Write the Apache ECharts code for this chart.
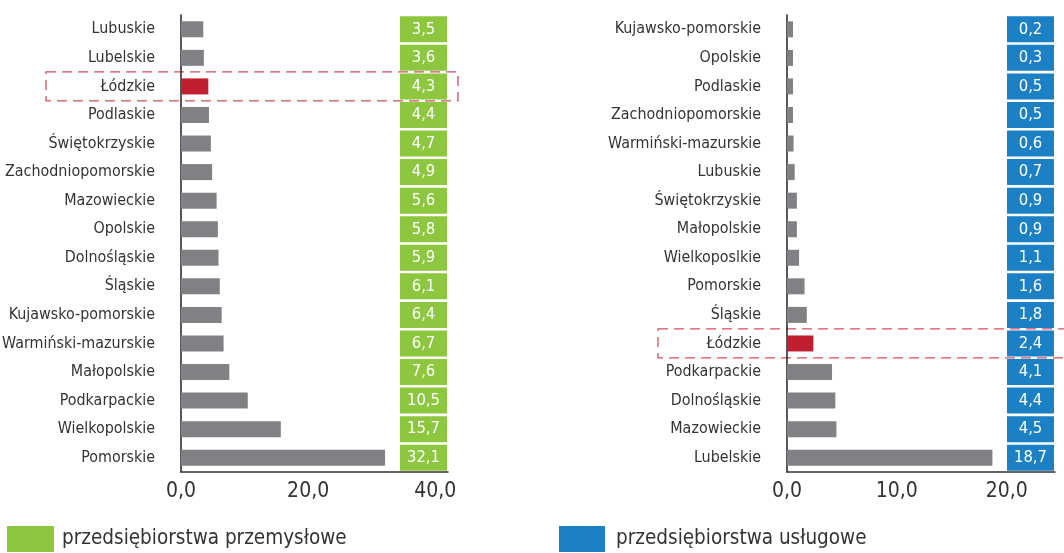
<!DOCTYPE html>
<html>
<head>
<meta charset="utf-8">
<script src="https://cdn.jsdelivr.net/npm/echarts@6/dist/echarts.min.js"></script>
<style>
  html, body { margin: 0; padding: 0; background: #fff; }
  #chart { width: 1064px; height: 553px; }
</style>
</head>
<body>
<div id="chart"></div>
<script>
// lewy wykres - przedsiębiorstwa przemysłowe
const leftCategories = ['Lubuskie', 'Lubelskie', 'Łódzkie', 'Podlaskie', 'Świętokrzyskie', 'Zachodniopomorskie',
  'Mazowieckie', 'Opolskie', 'Dolnośląskie', 'Śląskie', 'Kujawsko-pomorskie', 'Warmiński-mazurskie',
  'Małopolskie', 'Podkarpackie', 'Wielkopolskie', 'Pomorskie']
const leftValues = [3.5, 3.6, 4.3, 4.4, 4.7, 4.9, 5.6, 5.8, 5.9, 6.1, 6.4, 6.7, 7.6, 10.5, 15.7, 32.1]
const leftTicks = [0, 20, 40]

// prawy wykres - przedsiębiorstwa usługowe
const rightCategories = ['Kujawsko-pomorskie', 'Opolskie', 'Podlaskie', 'Zachodniopomorskie', 'Warmiński-mazurskie',
  'Lubuskie', 'Świętokrzyskie', 'Małopolskie', 'Wielkoposlkie', 'Pomorskie', 'Śląskie', 'Łódzkie',
  'Podkarpackie', 'Dolnośląskie', 'Mazowieckie', 'Lubelskie']
const rightValues = [0.2, 0.3, 0.5, 0.5, 0.6, 0.7, 0.9, 0.9, 1.1, 1.6, 1.8, 2.4, 4.1, 4.4, 4.5, 18.7]
const rightTicks = [0, 10, 20]

const highlight = 'Łódzkie'
const legendNames = ['przedsiębiorstwa przemysłowe', 'przedsiębiorstwa usługowe']

// szukamy zwężonego fontu, jeśli jest zainstalowany
const ctx = document.createElement('canvas').getContext('2d')
const pickFont = (list) => {
    const probe = 'Zachodniopomorskie 0123'
    ctx.font = '40px monospace'
    const base = ctx.measureText(probe).width
    for (const f of list) {
        ctx.font = '40px "' + f + '", monospace'
        if (Math.abs(ctx.measureText(probe).width - base) > 1) return f
    }
    return 'Roboto'
}
const FONT = '"' + pickFont(['Liberation Sans Narrow', 'DejaVu Sans Condensed', 'Roboto Condensed']) + '", sans-serif'
// rozmiar tak, żeby tekst miał szerokość zbliżoną do oryginału
const fit = (text, w, maxSize) => {
    ctx.font = '100px ' + FONT
    return Math.min(maxSize, Math.round(10 * 100 * w / ctx.measureText(text).width) / 10)
}
const catSize = fit('Zachodniopomorskie', 150, 18)
const tickSize = fit('20,0', 42, 23)
const boxSize = fit('10,5', 33, 18)
const legendSize = fit(legendNames[0], 285, 23)

const GREEN = '#8dc63f'
const BLUE = '#1b80c4'
const GREY = '#808185'
const RED = '#c01f2f'

const fmt = v => v.toFixed(1).replace('.', ',')

const chart = echarts.init(document.getElementById('chart'), null, {renderer: 'canvas'})

const barData = (cats, vals) => vals.map((v, i) => ({
    value: v,
    itemStyle: {color: cats[i] === highlight ? RED : GREY}
}))

const catAxis = (grid, cats) => ({
    type: 'category',
    gridIndex: grid,
    data: cats,
    inverse: true,
    axisLine: {lineStyle: {color: '#222', width: 1.5}},
    axisTick: {length: 17, inside: false, lineStyle: {color: '#555', width: 1.2}},
    axisLabel: {interval: 0, margin: 26, color: '#333', fontSize: catSize, fontFamily: FONT}
})

const boxAxis = (grid, cats, vals, color) => ({
    type: 'category',
    gridIndex: grid,
    data: cats,
    inverse: true,
    position: 'right',
    axisLine: {show: false},
    axisTick: {show: false},
    axisLabel: {
        interval: 0,
        inside: true,
        margin: 1,
        formatter: (val, idx) => '{box|' + fmt(vals[idx]) + '}',
        rich: {
            box: {
                width: 47, height: 26, lineHeight: 26, align: 'center',
                backgroundColor: color, color: '#fff', fontSize: boxSize, fontFamily: FONT
            }
        }
    }
})

const valAxis = (grid, ticks, max) => ({
    type: 'value',
    gridIndex: grid,
    min: ticks[0],
    max: max,
    interval: ticks[1] - ticks[0],
    splitLine: {show: false},
    axisTick: {show: false},
    axisLine: {show: true, lineStyle: {color: '#333', width: 1.5}},
    axisLabel: {
        showMaxLabel: false,
        margin: 9,
        color: '#333',
        fontSize: tickSize,
        fontFamily: FONT,
        formatter: v => ticks.indexOf(v) >= 0 ? fmt(v) : ''
    }
})

const legendText = {fontSize: legendSize, color: '#333', fontFamily: FONT}

chart.setOption({
    animation: false,
    grid: [
        {left: 181, top: 15, width: 267, height: 457, outerBoundsMode: 'none'},
        {left: 787, top: 15, width: 268, height: 457, outerBoundsMode: 'none'}
    ],
    legend: [
        {
            left: 7, top: 526, padding: 0, itemWidth: 47, itemHeight: 26, selectedMode: false,
            icon: 'rect',
            data: [{name: legendNames[0], itemStyle: {color: GREEN}}],
            textStyle: Object.assign({padding: [0, 0, 0, 3]}, legendText)
        },
        {
            left: 559, top: 526, padding: 0, itemWidth: 46, itemHeight: 26, selectedMode: false,
            icon: 'rect',
            data: [{name: legendNames[1], itemStyle: {color: BLUE}}],
            textStyle: Object.assign({padding: [0, 0, 0, 6]}, legendText)
        }
    ],
    xAxis: [valAxis(0, leftTicks, 42), valAxis(1, rightTicks, 24.4)],
    yAxis: [
        catAxis(0, leftCategories),
        boxAxis(0, leftCategories, leftValues, GREEN),
        catAxis(1, rightCategories),
        boxAxis(1, rightCategories, rightValues, BLUE)
    ],
    series: [
        {
            name: legendNames[0],
            type: 'bar',
            xAxisIndex: 0,
            yAxisIndex: 0,
            barWidth: 16,
            barMinHeight: 6,
            itemStyle: {color: GREY},
            data: barData(leftCategories, leftValues)
        },
        {
            name: legendNames[1],
            type: 'bar',
            xAxisIndex: 1,
            yAxisIndex: 2,
            barWidth: 16,
            barMinHeight: 6,
            itemStyle: {color: GREY},
            data: barData(rightCategories, rightValues)
        }
    ]
})

// przerywane ramki wokół wiersza Łódzkie
const yl = chart.convertToPixel({yAxisIndex: 0}, highlight)
const yr = chart.convertToPixel({yAxisIndex: 2}, highlight)
const dash = {fill: 'none', stroke: '#d0505c', lineWidth: 1.3, lineDash: [10, 6]}
chart.setOption({
    graphic: [
        {type: 'rect', silent: true, shape: {x: 46, y: yl - 14.5, width: 412, height: 29}, style: dash},
        {type: 'rect', silent: true, shape: {x: 658, y: yr - 14.5, width: 412, height: 29}, style: dash}
    ]
})
</script>
</body>
</html>
